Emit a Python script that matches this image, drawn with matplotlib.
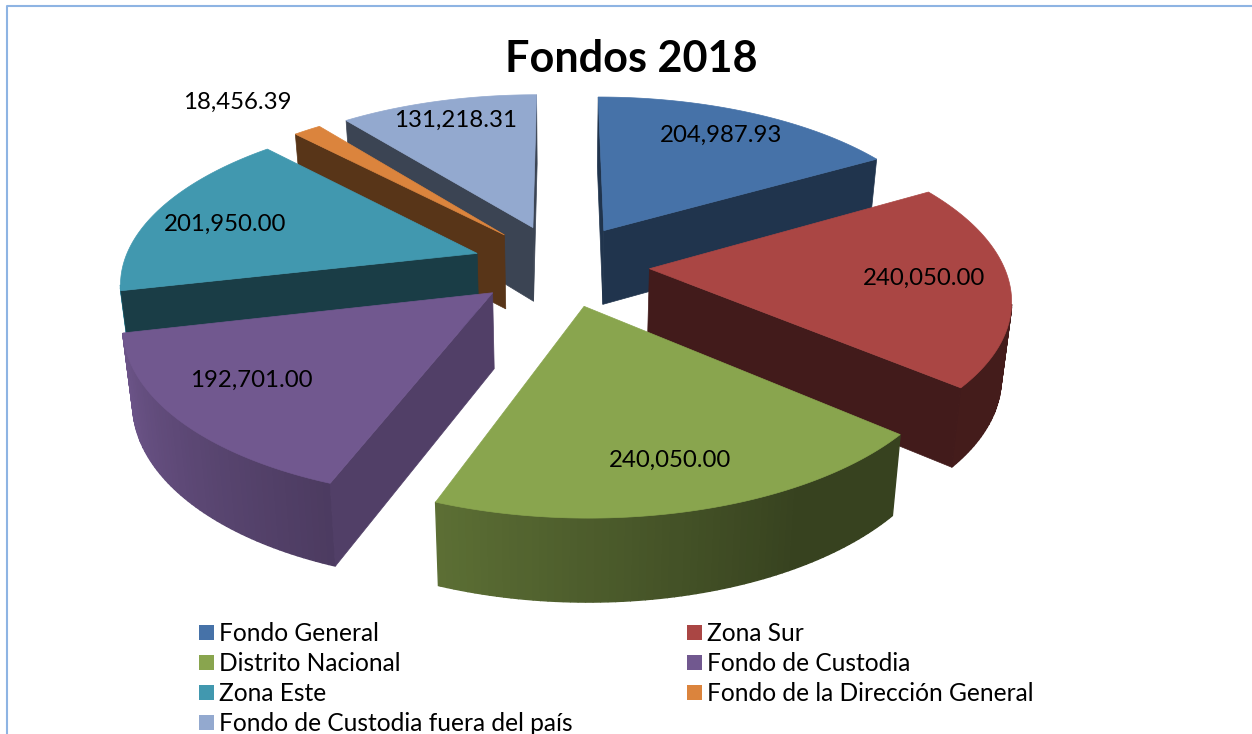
import numpy as np
import matplotlib
matplotlib.use('Agg')
import matplotlib.pyplot as plt
from matplotlib.colors import to_rgb
from matplotlib.patches import Patch
from matplotlib.lines import Line2D

# Data
categories = ['Fondo General', 'Zona Sur', 'Distrito Nacional', 'Fondo de Custodia',
              'Zona Este', 'Fondo de la Dirección General', 'Fondo de Custodia fuera del país']
values = [204987.93, 240050.00, 240050.00, 192701.00, 201950.00, 18456.39, 131218.31]
colors = ['#4672A8', '#AA4644', '#89A54E', '#71588F', '#4198AF', '#DB843D', '#93A9CF']
title = 'Fondos 2018'

# Where each value label sits, in pixels
label_xy = [(721, 135), (924, 278), (670, 460), (251, 380), (225, 224), (237, 102), (456, 120)]
# How dark the flat cut faces are
cut_shade = [0.46, 0.39, 0.40, 0.72, 0.40, 0.40, 0.40]
# Back to front
draw_order = [6, 5, 4, 0, 3, 1, 2]

# Projection of the tilted pie
CX, CY = 561, 265
RX, RY = 354, 164.3
PERSP = 0.156
EXPLODE = 0.25
DEPTH = 75
TAPER = 0.023

plt.rcParams['font.family'] = ['Lato', 'DejaVu Sans']


def project(x, y):
    """Ground plane point to pixel position, nearer points come out bigger"""
    s = 1 / (1 + PERSP * y)
    return CX + RX * x * s, CY - RY * y * s


def lower(x, y):
    """Same point on the underside of the pie"""
    px, py = project(x, y)
    s = 1 / (1 + PERSP * y)
    return CX + (px - CX) * (1 - TAPER), py + DEPTH * (0.5 + 0.5 * s)


def faces_camera(px, py, nx, ny):
    """True if a wall at (px, py) with outward normal (nx, ny) can be seen"""
    return (0 - px) * nx + (-1 / PERSP - py) * ny > 0


def shade(color, f):
    return tuple(min(1, c * f) for c in to_rgb(color))


def rim_factor(theta):
    t = np.clip((theta - 150) / 110, 0, 1)
    return 0.40 + 0.6 * t


def fill(ax, pts, color, z, lw=0.5):
    xs, ys = zip(*pts)
    ax.fill(xs, ys, facecolor=color, edgecolor=color, linewidth=lw, zorder=z)


def wall(ax, a, b, color, z, lw=0.5):
    """Vertical wall between two ground points"""
    fill(ax, [project(*a), project(*b), lower(*b), lower(*a)], color, z, lw)


def draw_slice(ax, start, end, color, cut, z):
    mid = np.radians((start + end) / 2)
    ox, oy = EXPLODE * np.sin(mid), EXPLODE * np.cos(mid)
    thetas = np.arange(start, end + 1.0, 1.0)
    thetas[-1] = end
    rad = np.radians(thetas)
    xs = ox + np.sin(rad)
    ys = oy + np.cos(rad)

    # outer rim as thin strips so it can carry the gradient
    strips = sorted(range(len(xs) - 1), key=lambda k: -ys[k])
    for k in strips:
        if faces_camera(xs[k], ys[k], np.sin(rad[k]), np.cos(rad[k])):
            wall(ax, (xs[k], ys[k]), (xs[k + 1], ys[k + 1]),
                 shade(color, rim_factor(thetas[k])), z, lw=1.0)

    # cut faces, their normals stand square on the edge of the slice
    if faces_camera(ox, oy, -np.cos(rad[0]), np.sin(rad[0])):
        wall(ax, (ox, oy), (xs[0], ys[0]), shade(color, cut), z + 0.1)
    if faces_camera(ox, oy, np.cos(rad[-1]), -np.sin(rad[-1])):
        wall(ax, (ox, oy), (xs[-1], ys[-1]), shade(color, cut), z + 0.1)

    top = [project(ox, oy)] + [project(a, b) for a, b in zip(xs, ys)]
    fill(ax, top, color, z + 0.2)


fig = plt.figure(figsize=(12.52, 7.34), dpi=100)
ax = fig.add_axes([0, 0, 1, 1])
ax.set_xlim(0, 1252)
ax.set_ylim(734, 0)
ax.axis('off')

# Frame of the original image
ax.add_line(Line2D([6.5, 6.5, 1252], [734, 5.5, 5.5], color='#8EB4E3', linewidth=1.5))

angles = np.cumsum([0] + values) / sum(values) * 360
for z, i in enumerate(draw_order):
    draw_slice(ax, angles[i], angles[i + 1], colors[i], cut_shade[i], z + 1)

for val, (lx, ly) in zip(values, label_xy):
    ax.text(lx, ly, f'{val:,.2f}', ha='center', va='center', fontsize=17.3, color='black', zorder=20)

ax.text(631, 59, title, ha='center', va='center', fontsize=31.1, fontweight='bold', color='black', zorder=20)

# matplotlib fills legend columns first, the chart reads across rows
handles = [Patch(facecolor=c, edgecolor='none') for c in colors]
order = [0, 2, 4, 6, 1, 3, 5]
fig.legend([handles[i] for i in order], [categories[i] for i in order], ncol=2,
           loc='upper left', bbox_to_anchor=(199 / 1252, 1 - 622 / 734), bbox_transform=fig.transFigure,
           frameon=False, fontsize=17.65, handlelength=0.6, handleheight=0.6, handletextpad=0.2,
           labelspacing=0.29, columnspacing=4.7, borderpad=0, borderaxespad=0)

fig.savefig('out.png', dpi=100, facecolor='white')
